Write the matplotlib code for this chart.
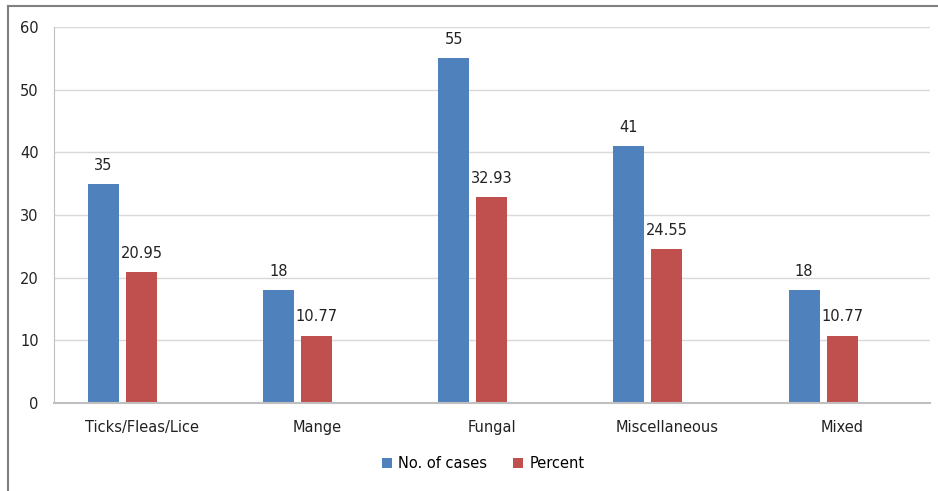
import matplotlib.pyplot as plt
from matplotlib.lines import Line2D

categories = ['Ticks/Fleas/Lice', 'Mange', 'Fungal', 'Miscellaneous', 'Mixed']
cases = [35, 18, 55, 41, 18]
percent = [20.95, 10.77, 32.93, 24.55, 10.77]

blue = '#4f81bd'
red = '#c0504d'

plt.rcParams['font.family'] = 'DejaVu Sans'

fig = plt.figure(figsize=(9.38, 4.91), dpi=100)
ax = fig.add_axes([0.0576, 0.179, 0.9334, 0.766])

x = list(range(len(categories)))
w = 0.177
off = 0.217
b1 = ax.bar([i - off for i in x], cases, width=w, color=blue, label='No. of cases', zorder=2)
b2 = ax.bar(x, percent, width=w, color=red, label='Percent', zorder=2)

for rect, v in zip(b1, cases):
    ax.annotate(f'{v:g}', (rect.get_x() + rect.get_width() / 2, rect.get_height()),
                xytext=(0, 8), textcoords='offset points', ha='center', va='bottom',
                fontsize=10.5, color='#222222')
for rect, v in zip(b2, percent):
    ax.annotate(f'{v:.2f}', (rect.get_x() + rect.get_width() / 2, rect.get_height()),
                xytext=(0, 8), textcoords='offset points', ha='center', va='bottom',
                fontsize=10.5, color='#222222')

ax.set_xlim(-0.5, 4.5)
ax.set_ylim(0, 60)
ax.set_yticks(range(0, 61, 10))
ax.set_xticks(x)
ax.set_xticklabels(categories, fontsize=10.5, color='#222222')
ax.tick_params(axis='y', labelsize=10.5, labelcolor='#222222', length=0, pad=11)
ax.tick_params(axis='x', length=0, pad=12)

ax.grid(axis='y', color='#d9d9d9', linewidth=1, zorder=0)
for s in ['top', 'right']:
    ax.spines[s].set_visible(False)
ax.spines['left'].set_color('#bfbfbf')
ax.spines['bottom'].set_color('#bfbfbf')
ax.spines['bottom'].set_linewidth(1.5)

ax.legend(loc='center', bbox_to_anchor=(0.49, -0.16), ncol=2, frameon=False,
          fontsize=10.5, handlelength=0.7, handleheight=0.7, handletextpad=0.4,
          columnspacing=1.8)

# outer frame (top and left edges visible)
fig.add_artist(Line2D([0.0085, 1.0], [0.988, 0.988], transform=fig.transFigure,
                      color='#808080', linewidth=1.5))
fig.add_artist(Line2D([0.0085, 0.0085], [0.0, 0.988], transform=fig.transFigure,
                      color='#808080', linewidth=1.5))

fig.savefig('out.png', dpi=100, facecolor='white')
